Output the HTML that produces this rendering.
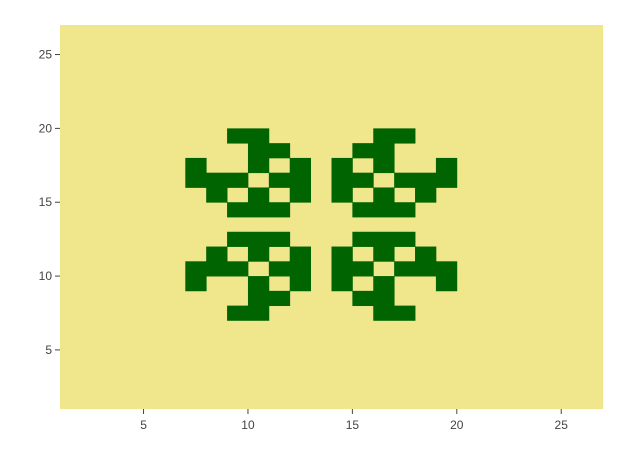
<!DOCTYPE html>
<html><head><meta charset="utf-8"><style>
body{margin:0;background:#fff;}
svg text{font-family:"Liberation Sans",sans-serif;font-size:12px;fill:#444;}
</style></head><body>
<svg id="chart" width="621" height="451">
<rect x="60" y="25" width="543" height="384" fill="#f0e68c"/>
<g id="cells"></g>
<g id="axes"></g>
</svg>
<script>
// alive cells: [rowY, colX] where cell spans [x,x+1]x[y,y+1]
const rowsY = [19,18,17,16,15,14,12,11,10,9,8,7];
const rowCols = [
 [9,10,16,17],
 [10,11,15,16],
 [7,10,12,14,16,19],
 [7,8,9,11,12,14,15,17,18,19],
 [8,10,12,14,16,18],
 [9,10,11,15,16,17],
 [9,10,11,15,16,17],
 [8,10,12,14,16,18],
 [7,8,9,11,12,14,15,17,18,19],
 [7,10,12,14,16,19],
 [10,11,15,16],
 [9,10,16,17]
];
const xTicks = [5,10,15,20,25];
const yTicks = [5,10,15,20,25];
const xr=[1,27], yr=[1,27];
const L=60,R=603,T=25,B=409;
const sx=v=>L+(v-xr[0])/(xr[1]-xr[0])*(R-L);
const sy=v=>B-(v-yr[0])/(yr[1]-yr[0])*(B-T);
const NS="http://www.w3.org/2000/svg";
const cells=document.getElementById('cells');
rowsY.forEach((y,i)=>{
 rowCols[i].forEach(x=>{
  const r=document.createElementNS(NS,'rect');
  r.setAttribute('x',sx(x));r.setAttribute('y',sy(y+1));
  r.setAttribute('width',sx(x+1)-sx(x)+0.4);r.setAttribute('height',sy(y)-sy(y+1)+0.4);
  r.setAttribute('fill','#006400');
  
  
  cells.appendChild(r);
 });
});
const axes=document.getElementById('axes');
xTicks.forEach(v=>{
 const l=document.createElementNS(NS,'line');
 l.setAttribute('x1',sx(v));l.setAttribute('x2',sx(v));l.setAttribute('y1',B);l.setAttribute('y2',B+5);
 l.setAttribute('stroke','#444');
 
 
 axes.appendChild(l);
 const t=document.createElementNS(NS,'text');
 t.setAttribute('x',sx(v));t.setAttribute('y',429);t.setAttribute('text-anchor','middle');
 t.textContent=v;
 
 
 axes.appendChild(t);
});
yTicks.forEach(v=>{
 const l=document.createElementNS(NS,'line');
 l.setAttribute('x1',L-5);l.setAttribute('x2',L);l.setAttribute('y1',sy(v));l.setAttribute('y2',sy(v));
 l.setAttribute('stroke','#444');
 
 
 axes.appendChild(l);
 const t=document.createElementNS(NS,'text');
 t.setAttribute('x',L-8);t.setAttribute('y',sy(v)+4);t.setAttribute('text-anchor','end');
 t.textContent=v;
 
 
 axes.appendChild(t);
});
</script>
</body></html>
